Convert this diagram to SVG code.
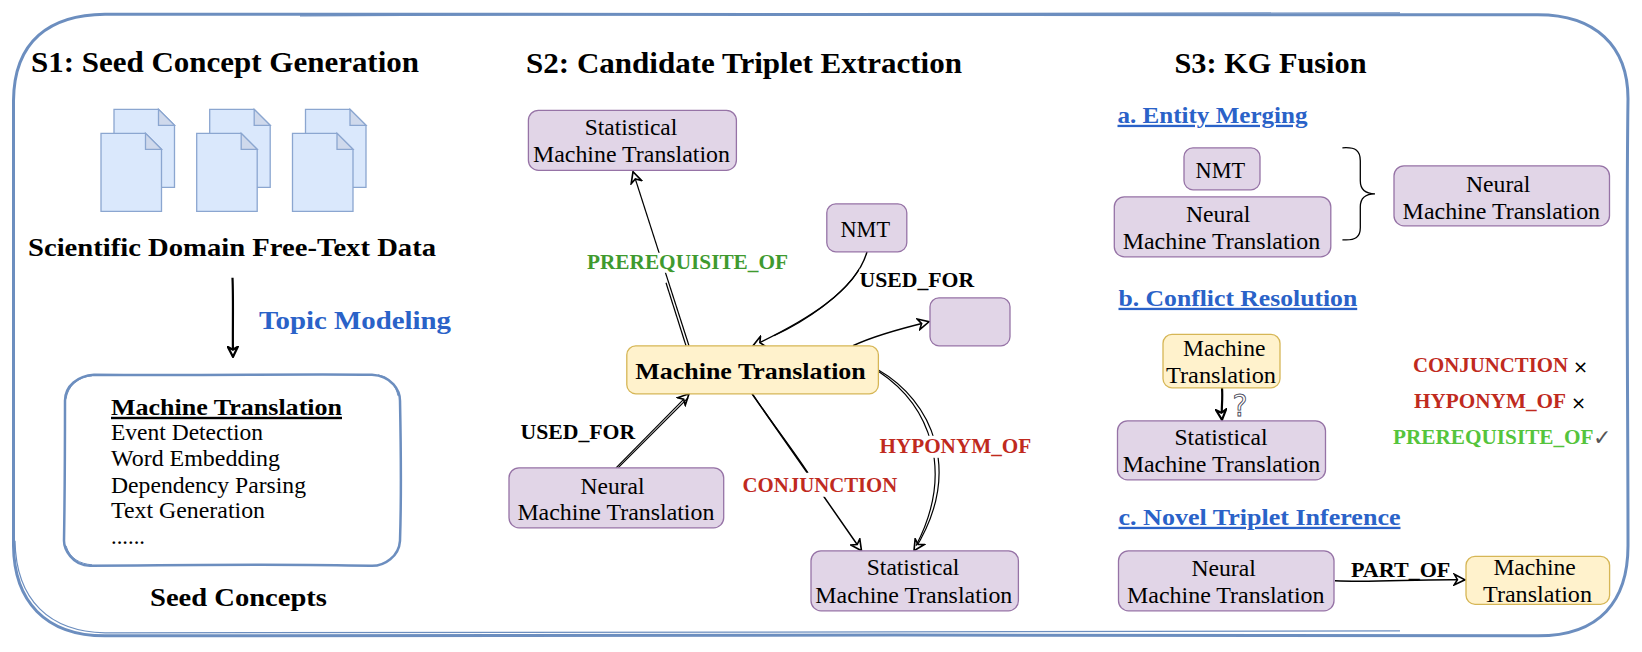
<svg xmlns="http://www.w3.org/2000/svg" width="1642" height="652" viewBox="0 0 1642 652">
<style>
text{font-family:"Liberation Serif","Times New Roman",serif;fill:#000}
.h{font-size:29px;font-weight:bold}
.b{font-size:26px;font-weight:bold}
.n{font-size:23px}
.bn{font-size:24px;font-weight:bold}
.l{font-size:20px;font-weight:bold}
.s{font-size:23px;font-weight:bold}
.u{text-decoration:underline}
.blue{fill:#2a62c8}
.red{fill:#c02a1e}
.grn{fill:#3f9a2f}
.lgrn{fill:#55c43c}
.pu{fill:#e1d5e7;stroke:#9673a6;stroke-width:1.3}
.ye{fill:#fff2cc;stroke:#d6b656;stroke-width:1.3}
.doc{fill:#dae8fc;stroke:#8ba6d0;stroke-width:1.3}
.fold{fill:#cfd9ec;stroke:#8ba6d0;stroke-width:1.3}
.sk{fill:none;stroke:#6c8ebf}
.c{fill:none;stroke:#000;stroke-width:1.2}
.a{marker-end:url(#arr)}
.a2{marker-end:url(#arr2)}
.gap{fill:#fff;stroke:none}
.sym{font-size:18px;font-family:"DejaVu Sans",sans-serif}
</style>
<defs>
<marker id="arr" viewBox="0 0 12 12" refX="11" refY="6" markerWidth="13" markerHeight="13" markerUnits="userSpaceOnUse" orient="auto">
<path d="M1,1 L11,6 L1,11 L4,6 Z" fill="#fff" stroke="#000" stroke-width="1.500"/>
</marker>
<marker id="arr2" viewBox="0 0 12 12" refX="11" refY="6" markerWidth="12" markerHeight="12" markerUnits="userSpaceOnUse" orient="auto">
<path d="M1,1 L11,6 L1,11 L4,6 Z" fill="#fff" stroke="#000" stroke-width="2.200"/>
</marker>
<g id="d">
<path class="doc" d="M114,108.500H158.500L174.500,124.500V186.500H114Z"/>
<path class="fold" d="M158.500,108.500V124.500H174.500Z"/>
<path class="doc" d="M101,132.500H145.500L161.500,148.500V210.500H101Z"/>
<path class="fold" d="M145.500,132.500V148.500H161.500Z"/>
</g>
</defs>
<rect width="1642" height="652" fill="#fff"/>
<g id="diagram" transform="translate(0,0.8)">
<g id="frame">
<path class="sk" stroke-width="3" d="M13.500,100C14,40 50,14 105,13.500C500,13 1100,14 1538,14C1595,14 1628,45 1628,98C1626,250 1628,400 1628,545C1628,600 1600,635 1538,635C1100,634 500,634 105,635C45,635 14,600 13.500,545C13,400 13,250 13.500,100Z"/>
<path class="sk" stroke-width="1.200" d="M15,540C16,600 50,631 105,632C500,631 1000,632 1400,630"/>
<path class="sk" stroke-width="1.200" d="M300,15C700,12 1000,13 1400,12"/>
</g>
<g id="documents">
<use href="#d"/><use href="#d" x="95.700"/><use href="#d" x="191.500"/>
</g>
<text class="h" x="31" y="71" textLength="388" lengthAdjust="spacingAndGlyphs">S1: Seed Concept Generation</text>
<text class="b" x="28" y="255" textLength="408" lengthAdjust="spacingAndGlyphs">Scientific Domain Free-Text Data</text>
<text class="b blue" x="259" y="328" textLength="192" lengthAdjust="spacingAndGlyphs">Topic Modeling</text>
<text class="b" x="150" y="605" textLength="177" lengthAdjust="spacingAndGlyphs">Seed Concepts</text>
<text class="h" x="526" y="72" textLength="436" lengthAdjust="spacingAndGlyphs">S2: Candidate Triplet Extraction</text>
<text class="h" x="1174.500" y="72" textLength="192" lengthAdjust="spacingAndGlyphs">S3: KG Fusion</text>
<g id="seed-concepts">
<path class="sk" stroke-width="2.500" d="M94,374C200,375 300,373 372,374C392,375 400,390 400,400C401,450 401,510 400,540C399,555 385,566 370,565C300,563 180,564 90,565C72,565 64,548 64,540C65,480 65,440 65,400C65,385 78,375 94,374Z"/>
<path class="sk" stroke-width="1" d="M66,398C68,385 78,376 92,375M66,545C70,558 80,563 92,564M398,395C396,385 390,377 378,374"/>
<text class="bn u" x="111" y="414" textLength="231" lengthAdjust="spacingAndGlyphs">Machine Translation</text>
<text class="n" x="111" y="439" textLength="152" lengthAdjust="spacingAndGlyphs">Event Detection</text>
<text class="n" x="111" y="465" textLength="169" lengthAdjust="spacingAndGlyphs">Word Embedding</text>
<text class="n" x="111" y="492" textLength="195" lengthAdjust="spacingAndGlyphs">Dependency Parsing</text>
<text class="n" x="111" y="517" textLength="154" lengthAdjust="spacingAndGlyphs">Text Generation</text>
<text class="n" x="111" y="543" textLength="34" lengthAdjust="spacingAndGlyphs">......</text>
</g>
<g id="connectors">
<path class="c a2" style="stroke-width:2.200" d="M232.500,277C233.500,300 232.500,330 233,356"/>
<path class="c a" d="M689,345L633,171"/>
<path class="c" d="M686,345L666,282"/>
<path class="c a" style="stroke-width:1.400" d="M867,251C856,290 806,320 753,345"/>
<path class="c" d="M859.500,268C843,295 806,320 774,335"/>
<path class="c a" style="stroke-width:1.500" d="M853,345C874,335 900,328 929,321"/>
<path class="c a" d="M616,467L689,393"/>
<path class="c" d="M618,467L688,397"/>
<path class="c a" style="stroke-width:1.500" d="M752,393C785,440 827,500 861.500,550"/>
<path class="c" d="M753,394C774,425 790,445 808,472"/>
<path class="c a" d="M878,369C932,400 964,470 914,550"/>
<path class="c" d="M879,371C930,405 955,470 916,545"/>
<path class="c" style="stroke-width:1.300" d="M1342.400,147C1356,146 1360.300,150 1360.300,160V180C1360.300,188 1364,193 1375,193C1364,193 1360.300,198 1360.300,206V227C1360.300,236 1356,240 1342.400,239"/>
<path class="c a2" style="stroke-width:2.200" d="M1222,387C1223,400 1221,408 1222,419"/>
<path class="c a" style="stroke-width:1.500" d="M1335,580C1375,582 1417,578 1465,579"/>
</g>
<g id="edge-labels">
<rect class="gap" x="587" y="252" width="201" height="20"/>
<text class="l grn" x="587" y="268" textLength="201" lengthAdjust="spacingAndGlyphs">PREREQUISITE_OF</text>
<rect class="gap" x="859.500" y="268" width="114.700" height="22"/>
<text class="l" x="859.500" y="286" textLength="114.700" lengthAdjust="spacingAndGlyphs">USED_FOR</text>
<text class="l" x="520.500" y="438" textLength="114.700" lengthAdjust="spacingAndGlyphs">USED_FOR</text>
<rect class="gap" x="879.500" y="435" width="151.600" height="22"/>
<text class="l red" x="879.500" y="452" textLength="151.600" lengthAdjust="spacingAndGlyphs">HYPONYM_OF</text>
<rect class="gap" x="742.600" y="472" width="154.700" height="24"/>
<text class="l red" x="742.600" y="491" textLength="154.700" lengthAdjust="spacingAndGlyphs">CONJUNCTION</text>
</g>
<g id="s2-smt-top"><rect class="pu" x="528.400" y="109.500" width="208" height="60" rx="10"/>
<text class="n" x="584.700" y="134" textLength="92.600" lengthAdjust="spacingAndGlyphs">Statistical</text>
<text class="n" x="533" y="161" textLength="197" lengthAdjust="spacingAndGlyphs">Machine Translation</text></g>
<g id="s2-nmt"><rect class="pu" x="826.800" y="203" width="80" height="48" rx="9"/>
<text class="n" x="840.500" y="236" textLength="49.500" lengthAdjust="spacingAndGlyphs">NMT</text></g>
<g id="s2-empty"><rect class="pu" x="930" y="297" width="80" height="48" rx="9"/></g>
<g id="s2-mt"><rect class="ye" x="626.800" y="345" width="251.600" height="48" rx="9"/>
<text class="bn" x="635.300" y="378" textLength="230.500" lengthAdjust="spacingAndGlyphs">Machine Translation</text></g>
<g id="s2-neural"><rect class="pu" x="509" y="467" width="214.700" height="60" rx="10"/>
<text class="n" x="580.500" y="493" textLength="64" lengthAdjust="spacingAndGlyphs">Neural</text>
<text class="n" x="517.400" y="519" textLength="197" lengthAdjust="spacingAndGlyphs">Machine Translation</text></g>
<g id="s2-smt-bottom"><rect class="pu" x="811" y="550" width="207.400" height="60" rx="10"/>
<text class="n" x="866.800" y="574" textLength="92.600" lengthAdjust="spacingAndGlyphs">Statistical</text>
<text class="n" x="815.300" y="602" textLength="197" lengthAdjust="spacingAndGlyphs">Machine Translation</text></g>
<text class="s blue u" x="1117.500" y="122" textLength="190" lengthAdjust="spacingAndGlyphs">a. Entity Merging</text>
<text class="s blue u" x="1118.500" y="305" textLength="238.700" lengthAdjust="spacingAndGlyphs">b. Conflict Resolution</text>
<text class="s blue u" x="1118.500" y="524" textLength="282" lengthAdjust="spacingAndGlyphs">c. Novel Triplet Inference</text>
<g id="s3-nmt"><rect class="pu" x="1184" y="147" width="76" height="42" rx="9"/>
<text class="n" x="1195.600" y="177" textLength="49.600" lengthAdjust="spacingAndGlyphs">NMT</text></g>
<g id="s3-neural"><rect class="pu" x="1114.300" y="196" width="216.500" height="60" rx="10"/>
<text class="n" x="1186" y="221" textLength="64.400" lengthAdjust="spacingAndGlyphs">Neural</text>
<text class="n" x="1122.700" y="248" textLength="197.500" lengthAdjust="spacingAndGlyphs">Machine Translation</text></g>
<g id="s3-merged"><rect class="pu" x="1394" y="165" width="215.500" height="60" rx="10"/>
<text class="n" x="1466" y="191" textLength="64.400" lengthAdjust="spacingAndGlyphs">Neural</text>
<text class="n" x="1402.600" y="218" textLength="197.500" lengthAdjust="spacingAndGlyphs">Machine Translation</text></g>
<g id="s3-mt"><rect class="ye" x="1163" y="333.500" width="117" height="53.500" rx="9"/>
<text class="n" x="1183" y="355" textLength="82.400" lengthAdjust="spacingAndGlyphs">Machine</text>
<text class="n" x="1166" y="382" textLength="110" lengthAdjust="spacingAndGlyphs">Translation</text></g>
<text x="1232.600" y="415" style="font-size:30px;font-family:'DejaVu Sans',sans-serif;fill:#fff;stroke:#445;stroke-width:.9" textLength="15" lengthAdjust="spacingAndGlyphs">?</text>
<g id="s3-smt"><rect class="pu" x="1117.500" y="420" width="208" height="59" rx="10"/>
<text class="n" x="1174.500" y="444" textLength="93" lengthAdjust="spacingAndGlyphs">Statistical</text>
<text class="n" x="1122.700" y="471" textLength="197.500" lengthAdjust="spacingAndGlyphs">Machine Translation</text></g>
<g id="s3-verdicts">
<text class="l red" x="1413" y="371" textLength="155" lengthAdjust="spacingAndGlyphs">CONJUNCTION</text>
<text class="sym" x="1573" y="372">×</text>
<text class="l red" x="1414" y="407" textLength="152" lengthAdjust="spacingAndGlyphs">HYPONYM_OF</text>
<text class="sym" x="1571" y="408">×</text>
<text class="l lgrn" x="1393" y="443" textLength="200.600" lengthAdjust="spacingAndGlyphs">PREREQUISITE_OF</text>
<text class="sym" x="1593" y="444" style="fill:#555;font-size:22px;font-weight:normal">✓</text>
</g>
<g id="s3-neural2"><rect class="pu" x="1118.500" y="550" width="215.500" height="60" rx="10"/>
<text class="n" x="1191.400" y="575" textLength="64.400" lengthAdjust="spacingAndGlyphs">Neural</text>
<text class="n" x="1127" y="602" textLength="197.500" lengthAdjust="spacingAndGlyphs">Machine Translation</text></g>
<g id="s3-mt2"><rect class="ye" x="1466" y="555.500" width="143.600" height="48" rx="9"/>
<text class="n" x="1493.400" y="574" textLength="82.400" lengthAdjust="spacingAndGlyphs">Machine</text>
<text class="n" x="1483" y="601" textLength="109" lengthAdjust="spacingAndGlyphs">Translation</text></g>
<text class="l" x="1351" y="576" textLength="99.300" lengthAdjust="spacingAndGlyphs">PART_OF</text>
</g>
</svg>
